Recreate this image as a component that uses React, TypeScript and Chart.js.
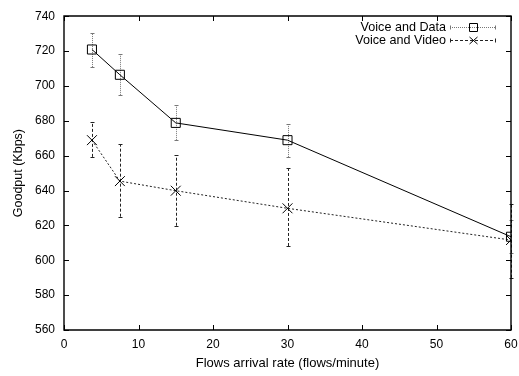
import { useEffect, useRef } from "react";
import { Chart, registerables } from "chart.js";

Chart.register(...registerables);

const flowRates = [3.75, 7.5, 15, 30, 60];
const dataGoodput = [720.9, 706.4, 678.8, 668.9, 613.5];
const dataLow = [710.9, 694.7, 668.9, 659.3, 604];
const dataHigh = [730.4, 718.2, 688.8, 677.9, 623];
const videoGoodput = [668.9, 645.4, 639.9, 629.8, 611.6];
const videoLow = [659.3, 625.0, 619.8, 608.2, 590];
const videoHigh = [679.4, 666.5, 660.3, 653.0, 632];
const seriesNames = ["Voice and Data", "Voice and Video"];
const xTickValues = [0, 10, 20, 30, 40, 50, 60];
const yTickValues = [560, 580, 600, 620, 640, 660, 680, 700, 720, 740];

const FONT = "'Liberation Sans', Arial, Helvetica, sans-serif";

const errorBars = [
  { low: dataLow, high: dataHigh, color: "#777", dash: [1, 1] },
  { low: videoLow, high: videoHigh, color: "#222", dash: [3, 2] },
];

const errorBarPlugin = {
  id: "errorBars",
  beforeDatasetsDraw(chart: any) {
    const { ctx, scales } = chart;
    const xs = scales.x;
    const ys = scales.y;
    errorBars.forEach((eb) => {
      ctx.save();
      ctx.strokeStyle = eb.color;
      ctx.lineWidth = 1;
      flowRates.forEach((fx, i) => {
        const px = Math.round(xs.getPixelForValue(fx)) + 0.5;
        const y1 = ys.getPixelForValue(eb.low[i]);
        const y2 = ys.getPixelForValue(eb.high[i]);
        ctx.setLineDash(eb.dash);
        ctx.beginPath();
        ctx.moveTo(px, y1);
        ctx.lineTo(px, y2);
        ctx.stroke();
        ctx.setLineDash([]);
        ctx.beginPath();
        ctx.moveTo(px - 2, Math.round(y1) + 0.5);
        ctx.lineTo(px + 2, Math.round(y1) + 0.5);
        ctx.moveTo(px - 2, Math.round(y2) + 0.5);
        ctx.lineTo(px + 2, Math.round(y2) + 0.5);
        ctx.stroke();
      });
      ctx.restore();
    });
  },
};

const framePlugin = {
  id: "frame",
  afterDraw(chart: any) {
    const { ctx, chartArea, scales } = chart;
    const { left, right, top, bottom } = chartArea;
    ctx.save();
    ctx.strokeStyle = "#000";
    ctx.lineWidth = 1.4;
    const L = Math.round(left);
    const R = Math.round(right);
    const T = Math.round(top);
    const B = Math.round(bottom);
    ctx.beginPath();
    ctx.rect(L, T, R - L, B - T);
    ctx.stroke();
    ctx.lineWidth = 1;
    ctx.beginPath();
    xTickValues.forEach((v) => {
      const px = Math.round(scales.x.getPixelForValue(v)) + 0.5;
      ctx.moveTo(px, B);
      ctx.lineTo(px, B - 5);
      ctx.moveTo(px, T);
      ctx.lineTo(px, T + 5);
    });
    yTickValues.forEach((v) => {
      const py = Math.round(scales.y.getPixelForValue(v)) + 0.5;
      ctx.moveTo(L, py);
      ctx.lineTo(L + 5, py);
      ctx.moveTo(R, py);
      ctx.lineTo(R - 5, py);
    });
    ctx.stroke();

    // legend
    ctx.font = `12.6px ${FONT}`;
    ctx.fillStyle = "#000";
    ctx.textAlign = "right";
    ctx.textBaseline = "alphabetic";
    const rows = [
      { y: top + 10.5, color: "#777", dash: [1, 1], marker: "rect" },
      { y: top + 23.5, color: "#222", dash: [3, 2], marker: "cross" },
    ];
    rows.forEach((r, i) => {
      ctx.fillText(seriesNames[i], right - 65, r.y + 4.5);
      const x1 = right - 61;
      const x2 = right - 15;
      const yy = Math.round(r.y) + 0.5;
      ctx.strokeStyle = r.color;
      ctx.setLineDash(r.dash);
      ctx.beginPath();
      ctx.moveTo(x1, yy);
      ctx.lineTo(x2, yy);
      ctx.stroke();
      ctx.setLineDash([]);
      ctx.beginPath();
      ctx.moveTo(x1 + 0.5, yy - 2);
      ctx.lineTo(x1 + 0.5, yy + 2);
      ctx.moveTo(x2 - 0.5, yy - 2);
      ctx.lineTo(x2 - 0.5, yy + 2);
      ctx.stroke();
      ctx.strokeStyle = "#000";
      const cx = Math.round((x1 + x2) / 2) + 0.5;
      ctx.beginPath();
      if (r.marker === "rect") {
        ctx.rect(cx - 4, yy - 4, 8, 8);
      } else {
        ctx.moveTo(cx - 4, yy - 3.5);
        ctx.lineTo(cx + 4, yy + 3.5);
        ctx.moveTo(cx + 4, yy - 3.5);
        ctx.lineTo(cx - 4, yy + 3.5);
      }
      ctx.stroke();
    });
    ctx.restore();
  },
};

export default function App() {
  const ref = useRef<HTMLCanvasElement>(null);
  useEffect(() => {
    if (!ref.current) return;
    const chart = new Chart(ref.current, {
      type: "line",
      data: {
        datasets: [
          {
            label: seriesNames[0],
            data: flowRates.map((x, i) => ({ x, y: dataGoodput[i] })),
            borderColor: "#000",
            borderWidth: 1,
            pointStyle: "rect",
            pointRadius: 6.4,
            pointBorderColor: "#000",
            pointBorderWidth: 1,
            pointBackgroundColor: "rgba(0,0,0,0)",
            tension: 0,
            fill: false,
          },
          {
            label: seriesNames[1],
            data: flowRates.map((x, i) => ({ x, y: videoGoodput[i] })),
            borderColor: "#222",
            borderWidth: 1,
            borderDash: [2, 2],
            pointStyle: "crossRot",
            pointRadius: 7,
            pointBorderColor: "#000",
            pointBorderWidth: 1,
            tension: 0,
            fill: false,
          },
        ],
      },
      options: {
        animation: false,
        responsive: false,
        devicePixelRatio: 1,
        layout: { padding: { top: 16, right: 8, left: 0, bottom: 0 } },
        plugins: { legend: { display: false }, tooltip: { enabled: false } },
        scales: {
          x: {
            type: "linear",
            min: 0,
            max: 60,
            afterFit: (s: any) => {
              s.height = 46;
              s.paddingRight = 0;
              s.paddingLeft = 0;
            },
            afterBuildTicks: (s: any) => {
              s.ticks = xTickValues.map((v) => ({ value: v }));
            },
            ticks: { color: "#000", font: { family: FONT, size: 12 }, padding: 7, maxRotation: 0 },
            grid: { display: false, drawTicks: false },
            border: { display: false },
            title: {
              display: true,
              text: "Flows arrival rate (flows/minute)",
              color: "#000",
              font: { family: FONT, size: 13 },
              padding: { top: 6, bottom: 5 },
            },
          },
          y: {
            type: "linear",
            min: 560,
            max: 740,
            afterFit: (s: any) => {
              s.width = 64;
            },
            afterBuildTicks: (s: any) => {
              s.ticks = yTickValues.map((v) => ({ value: v }));
            },
            ticks: { color: "#000", font: { family: FONT, size: 12 }, padding: 9 },
            grid: { display: false, drawTicks: false },
            border: { display: false },
            title: {
              display: true,
              text: "Goodput (Kbps)",
              color: "#000",
              font: { family: FONT, size: 12.5 },
              padding: { top: 11, bottom: 0 },
            },
          },
        },
      },
      plugins: [errorBarPlugin, framePlugin],
    } as any);
    return () => chart.destroy();
  }, []);
  return (
    <div style={{ position: "absolute", left: 0, top: 0, width: 519, height: 376, background: "#fff" }}>
      <canvas ref={ref} width={519} height={376} style={{ display: "block" }} />
    </div>
  );
}
